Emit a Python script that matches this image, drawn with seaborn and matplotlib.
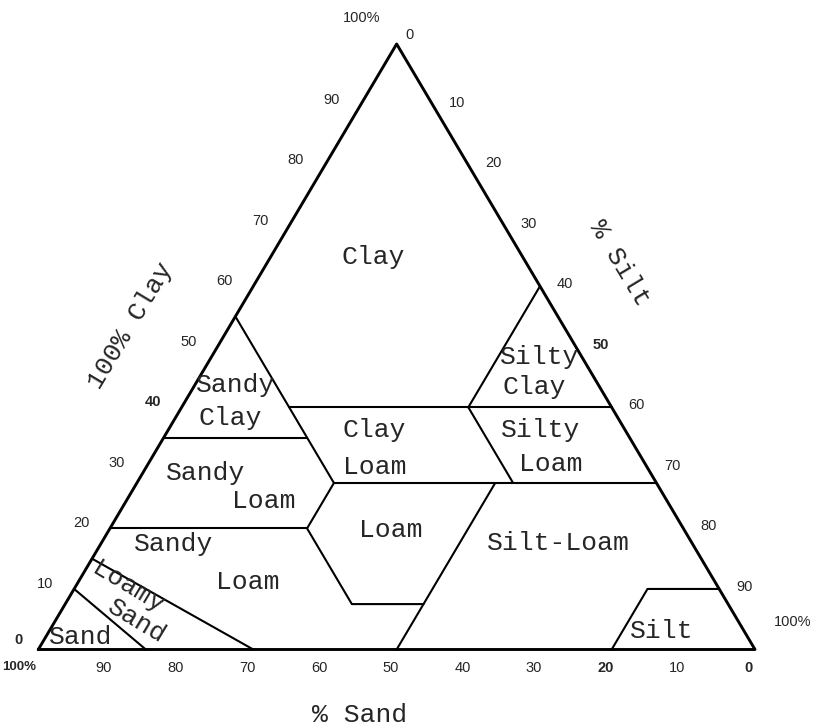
import matplotlib.pyplot as plt
import seaborn as sns
import pandas as pd

sns.set_style("white")
plt.rcParams['font.family'] = ['Liberation Mono', 'DejaVu Sans Mono']

# class boundaries, as (clay %, silt %) points
outline = [(0, 0), (0, 100), (100, 0), (0, 0)]
sand_45 = [(55, 0), (27.5, 27.5)]
clay_35 = [(35, 0), (35, 20)]
clay_40 = [(40, 15), (40, 60)]
silt_40 = [(60, 40), (40, 40)]
sand_20 = [(40, 40), (27.5, 52.5)]
clay_27 = [(27.5, 27.5), (27.5, 72.5)]
loam_left = [(27.5, 27.5), (20, 27.5), (7.5, 40), (7.5, 50)]
clay_20 = [(20, 0), (20, 27.5)]
silt_50 = [(27.5, 50), (0, 50)]
loamy_sand = [(15, 0), (0, 30)]
sand_line = [(10, 0), (0, 15)]
silt_box = [(0, 80), (10, 80), (10, 90)]

clay_ticks = [0, 10, 20, 30, 40, 50, 60, 70, 80, 90]
silt_ticks = [0, 10, 20, 30, 40, 50, 60, 70, 80, 90]
sand_ticks = [90, 80, 70, 60, 50, 40, 30, 20, 10, 0]

class_names = ["Clay", "Sandy", "Clay", "Sandy", "Loam", "Sandy", "Loam",
               "Sand", "Clay", "Loam", "Loam", "Silty", "Clay", "Silty",
               "Loam", "Silt-Loam", "Silt"]
# where each word sits in the picture (pixels)
name_spots = [(373, 257), (236, 385), (230, 418), (206, 473), (264, 501),
              (174, 544), (248, 582), (81, 637), (374, 430), (375, 467),
              (391, 530), (540, 357), (534, 387), (541, 430), (551, 464),
              (558, 543), (662, 631)]

# pixel frame of the triangle
X0, Y0, SX, SY = 38.3, 649.5, 7.167, 6.055


def at(px, py):
    return (px - X0) / SX, (Y0 - py) / SY


lines = {
    "outline": outline, "sand_45": sand_45, "clay_35": clay_35,
    "clay_40": clay_40, "silt_40": silt_40, "sand_20": sand_20,
    "clay_27": clay_27, "loam_left": loam_left, "clay_20": clay_20,
    "silt_50": silt_50, "loamy_sand": loamy_sand, "sand_line": sand_line,
    "silt_box": silt_box,
}
rows = []
for name, pts in lines.items():
    for i, (clay, silt) in enumerate(pts):
        rows.append({"line": name, "order": i, "x": silt + clay / 2, "y": clay})
df = pd.DataFrame(rows)

fig = plt.figure(figsize=(8.22, 7.28), dpi=100)
ax = fig.add_axes([0, 0, 1, 1])

sns.lineplot(data=df[df.line != "outline"], x="x", y="y", units="line",
             estimator=None, sort=False, color="black", lw=1.5, ax=ax)
sns.lineplot(data=df[df.line == "outline"], x="x", y="y", units="line",
             estimator=None, sort=False, color="black", lw=2.1, ax=ax)

ax.set_xlim(at(0, 0)[0], at(822, 0)[0])
ax.set_ylim(at(0, 728)[1], at(0, 0)[1])
ax.axis("off")

# class names
for name, (px, py) in zip(class_names, name_spots):
    ax.text(*at(px, py), name, fontsize=19, ha="center", va="center")
ax.text(*at(128, 587), "Loamy", fontsize=19, ha="center", va="center", rotation=-31)
ax.text(*at(137, 621), "Sand", fontsize=19, ha="center", va="center", rotation=-31)

# axis titles
ax.text(*at(131, 326), "100% Clay", fontsize=19, ha="center", va="center", rotation=59)
ax.text(*at(620, 263), "% Silt", fontsize=19, ha="center", va="center", rotation=-59)
ax.text(*at(360, 715), "% Sand", fontsize=19, ha="center", va="center")

tick_font = dict(family="Liberation Sans", fontsize=10.5, ha="center", va="center",
                 textcoords="offset pixels")

for c in clay_ticks:
    off = (-29, 5) if c else (-20, 9)
    ax.annotate(str(c), xy=(c / 2, c), xytext=off, weight="bold" if c in (0, 40) else "normal",
                **tick_font)
ax.annotate("100%", xy=(50, 100), xytext=(-35, 26), **tick_font)

for s in silt_ticks:
    off = (25, 2) if s else (13, 9)
    ax.annotate(str(s), xy=(50 + s / 2, 100 - s), xytext=off,
                weight="bold" if s == 50 else "normal", **tick_font)
ax.annotate("100%", xy=(100, 0), xytext=(38, 27), **tick_font)

for s in sand_ticks:
    ax.annotate(str(s), xy=(100 - s, 0), xytext=(-6, -19),
                weight="bold" if s in (20, 0) else "normal", **tick_font)
ax.annotate("100%", xy=(0, 0), xytext=(-19, -17), weight="bold", fontsize=9.5,
            **{k: v for k, v in tick_font.items() if k != "fontsize"})

fig.savefig("out.png", dpi=100)
